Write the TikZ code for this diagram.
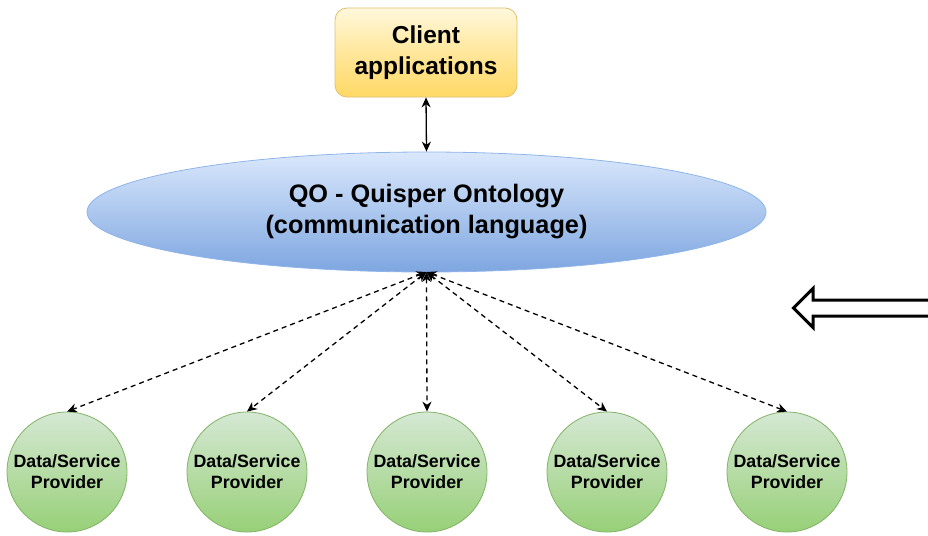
\documentclass[tikz,border=0pt]{standalone}
\usepackage{fontspec}
\setmainfont{Liberation Sans}
\usetikzlibrary{arrows.meta,shapes.geometric}
\definecolor{clTop}{HTML}{FFF8DC}
\definecolor{clBot}{HTML}{FFD966}
\definecolor{clLine}{HTML}{E0C070}
\definecolor{elTop}{HTML}{DAE8FC}
\definecolor{elBot}{HTML}{7EA6E0}
\definecolor{elLine}{HTML}{8FB4EA}
\definecolor{dpTop}{HTML}{D5E8D4}
\definecolor{dpBot}{HTML}{97D077}
\definecolor{dpLine}{HTML}{82B366}
\tikzset{
  clientbox/.style={draw=clLine, line width=0.8pt, rounded corners=12pt, top color=clTop, bottom color=clBot, middle color=clBot!55!clTop, minimum width=182pt, minimum height=89pt, align=center, font=\fontsize{24.5}{31}\selectfont\bfseries},
  qoell/.style={ellipse, draw=elLine, line width=0.8pt, top color=elTop, bottom color=elBot, minimum width=679pt, minimum height=120pt, inner sep=0pt, align=center, font=\fontsize{25.3}{31}\selectfont\bfseries},
  provider/.style={circle, draw=dpLine, line width=0.8pt, top color=dpTop, bottom color=dpBot, minimum size=120pt, inner sep=0pt, align=center, font=\fontsize{17.8}{21}\selectfont\bfseries},
  solidlink/.style={{Stealth[length=10pt,width=9pt]}-{Stealth[length=10pt,width=9pt]}, line width=1.3pt, black},
  dashlink/.style={{Stealth[length=10pt,width=9pt]}-{Stealth[length=10pt,width=9pt]}, line width=1.3pt, black, dash pattern=on 5pt off 4pt},
  bigarrow/.style={draw=black, line width=3pt, fill=white, line join=miter}
}
\begin{document}
\begin{tikzpicture}[x=1pt,y=-1pt]
\useasboundingbox (0,0) rectangle (928,535);
\begin{scope}
\clip (0,0) rectangle (928,535);
\node[clientbox] (client) at (426,52.5) {Client\\applications};
\node[qoell] (qo) at (426.5,212) {QO - Quisper Ontology\\(communication language)};
\coordinate (hub) at (426.5,272);
\foreach \i/\x in {1/67,2/247,3/427,4/607,5/787}{
  \node[provider] (p\i) at (\x,472) {Data/Service\\Provider};
}
\draw[solidlink] (client.south) -- (qo.north);
\foreach \i in {1,...,5}{
  \draw[dashlink] (hub) -- (p\i.north);
}
\draw[bigarrow] (935,300) -- (813,300) -- (813,288.5) -- (793.5,308) -- (813,327.5) -- (813,316) -- (935,316);
\end{scope}
\end{tikzpicture}
\end{document}
